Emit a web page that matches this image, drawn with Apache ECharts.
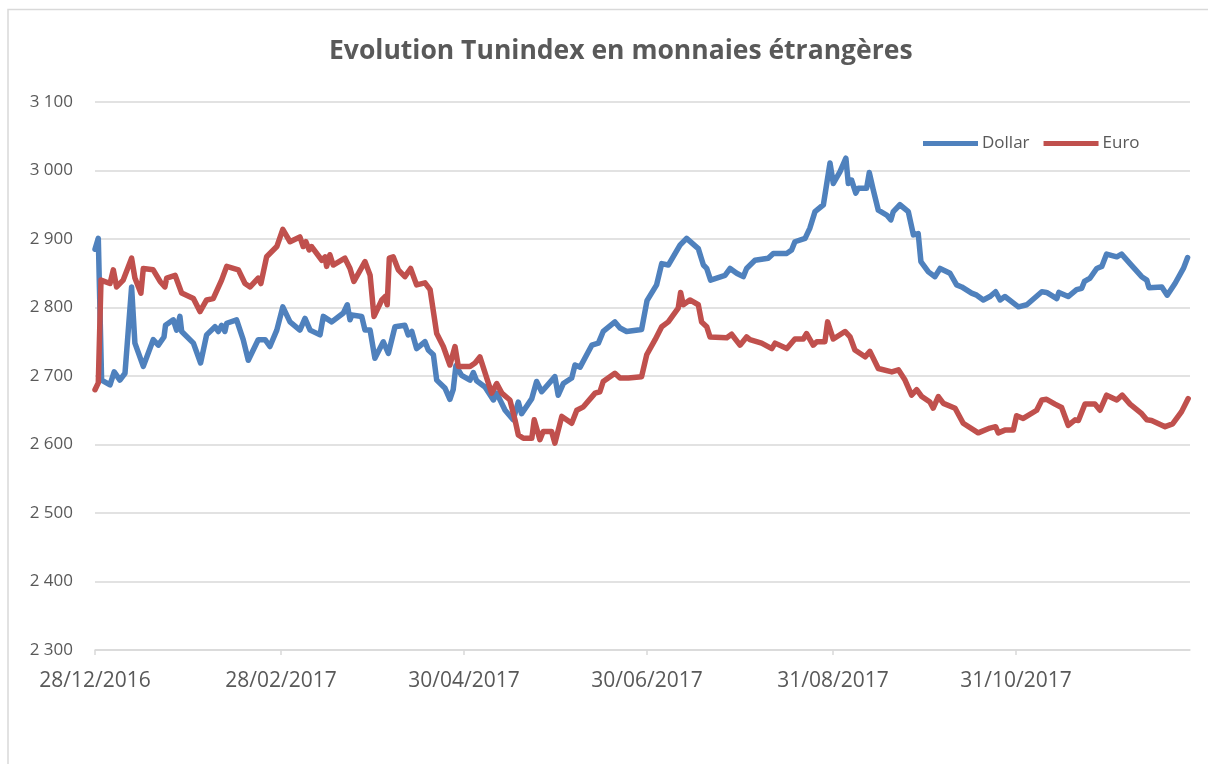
<!DOCTYPE html>
<html>
	<head>
		<meta charset="UTF-8" />
		<script src="https://cdn.jsdelivr.net/npm/echarts@6/dist/echarts.min.js"></script>
		<title>Evolution Tunindex</title>
		<style>
			body {
				margin: 0;
				background-color: #fff;
			}
			#chart {
				width: 1208px;
				height: 764px;
			}
		</style>
	</head>
	<body>
		<div id="chart"></div>
	</body>
</html>

<script>
	// x = jours depuis le 28/12/2016
	var dollarDays = [
		0, 1.1, 2.2, 5, 6.4, 8.3, 10, 12.2, 13.3, 16.1, 19.4, 21.1, 23, 23.5, 26.1, 27.2, 28.3, 28.9, 32.8, 35.2,
		37.2, 40, 41.1, 42.2, 43.3, 43.9, 47.2, 49.4, 51.1, 54.4, 56.7, 58.3, 60.6, 62.6, 65, 68.3, 70, 71.7, 75, 76.1,
		78.9, 82.8, 84.1, 85, 85.6, 88.9, 90, 91.7, 93.3, 96.1, 97.8, 100, 103.3, 104.4, 105.6, 107.2, 110, 111.1, 112.8, 113.9,
		116.7, 118.3, 119.4, 120.3, 122.2, 125, 126.1, 127.2, 130, 132.8, 133.9, 136.7, 139.4, 141.1, 142.2, 145.6, 147.2, 148.9, 153.3, 154.4,
		156.1, 158.9, 160, 161.7, 165.6, 167.8, 169.4, 173.3, 175, 177.2, 182.2, 184, 187.2, 188.9, 191.1, 195, 197.2, 201.1, 202.8, 203.9,
		205.2, 210, 211.7, 213.9, 216.1, 217.2, 220, 224.4, 226.1, 230.6, 232.2, 233.3, 236.7, 238.3, 240, 242.8, 245, 246.1, 248.3, 250.3,
		251.1, 252.2, 253.6, 254.4, 257.2, 258.1, 259.4, 261.1, 263.9, 265.3, 266.1, 268.3, 271.1, 272.8, 274.4, 275.3, 277.8, 280, 281.7, 285,
		287.2, 288.9, 292.2, 293.9, 296.1, 298.3, 300.2, 301.7, 303.3, 307.8, 310.6, 315.6, 317.2, 320.6, 321.3, 324.4, 327.2, 328.9, 329.8, 331.7,
		333.9, 335.6, 337.2, 340.6, 342.2, 345, 348.9, 350.6, 351.3, 355.6, 357.4, 360, 362.8, 364.2
	]
	var dollarValues = [
		2885, 2901, 2694, 2687, 2706, 2694, 2704, 2830, 2748, 2714, 2753, 2745, 2757, 2774, 2782, 2767, 2787, 2765, 2748, 2719,
		2760, 2772, 2765, 2774, 2765, 2777, 2782, 2753, 2723, 2753, 2753, 2743, 2767, 2801, 2779, 2767, 2784, 2767, 2760, 2787,
		2779, 2792, 2804, 2782, 2789, 2787, 2767, 2767, 2726, 2750, 2733, 2772, 2774, 2760, 2765, 2740, 2750, 2738, 2731, 2694,
		2682, 2666, 2680, 2715, 2701, 2694, 2705, 2693, 2684, 2665, 2675, 2650, 2636, 2662, 2645, 2667, 2692, 2677, 2699, 2672,
		2689, 2697, 2716, 2713, 2745, 2748, 2765, 2779, 2770, 2765, 2768, 2810, 2833, 2864, 2862, 2891, 2901, 2886, 2862, 2857,
		2840, 2847, 2857, 2850, 2845, 2857, 2869, 2872, 2879, 2879, 2884, 2896, 2901, 2916, 2940, 2950, 3011, 2981, 2998, 3018,
		2981, 2986, 2967, 2974, 2974, 2997, 2972, 2942, 2935, 2928, 2940, 2950, 2940, 2906, 2908, 2867, 2852, 2845, 2857, 2850,
		2833, 2830, 2821, 2818, 2811, 2816, 2823, 2811, 2816, 2801, 2804, 2823, 2822, 2813, 2822, 2816, 2826, 2828, 2838, 2843,
		2857, 2860, 2878, 2874, 2878, 2864, 2845, 2840, 2829, 2830, 2818, 2835, 2857, 2873
	]

	var euroDays = [
		0, 1.1, 2, 5, 6.1, 7.2, 9.4, 12.2, 13.3, 15.3, 16.1, 19.4, 21.7, 23.3, 23.9, 26.7, 28.9, 32.8, 35, 37.2,
		39.4, 42.2, 43.9, 47.8, 50, 51.7, 54.4, 55.3, 57.2, 60.6, 62.6, 65, 68.3, 69.4, 70.3, 71.4, 72.2, 75.6, 76.7, 77.2,
		78.3, 79.4, 83.3, 85, 86.3, 90, 91.7, 93, 95.6, 96.7, 97.4, 98.1, 99.4, 101.1, 103.3, 105.2, 107.2, 110, 111.7, 113.9,
		116.1, 118.3, 120, 121.1, 125, 126.7, 128.3, 132.2, 133.9, 135.6, 138.3, 140, 141.1, 142.8, 145.6, 146.4, 148.3, 149.4, 152.2, 153.3,
		155.6, 158.9, 160.6, 162.8, 166.7, 168.3, 169.4, 173.3, 175, 177.8, 182.2, 183.9, 186.7, 188.9, 191.1, 194.4, 195.2, 196.1, 198.3, 201.1,
		202.2, 203.9, 205, 210.6, 212.2, 215, 217.2, 218.3, 222.2, 225.6, 226.7, 230.6, 233.3, 236.1, 237.2, 239.4, 240.6, 243.3, 244.2, 246.1,
		250, 251.7, 253.3, 256.7, 258.3, 261.1, 265.6, 267.8, 270, 272.2, 273.9, 275.6, 278.3, 279.4, 281.1, 282.8, 286.7, 289.4, 294.4, 298.3,
		300.2, 301.1, 303.3, 306.1, 307.2, 309.4, 313.9, 315.6, 317.2, 320, 322.2, 324.4, 326.7, 327.8, 330, 333.3, 335, 337.2, 340.6, 342.4,
		345, 348.9, 350.6, 352.2, 356.7, 359.2, 362.2, 364.4
	]
	var euroValues = [
		2680, 2690, 2840, 2835, 2855, 2830, 2840, 2872, 2843, 2821, 2857, 2855, 2838, 2830, 2843, 2847, 2821, 2813, 2794, 2811,
		2813, 2840, 2860, 2855, 2835, 2830, 2843, 2835, 2874, 2889, 2914, 2896, 2903, 2889, 2896, 2884, 2889, 2869, 2874, 2860,
		2877, 2862, 2872, 2857, 2838, 2867, 2847, 2787, 2811, 2816, 2804, 2872, 2874, 2855, 2845, 2857, 2833, 2836, 2826, 2762,
		2743, 2716, 2743, 2714, 2714, 2719, 2728, 2675, 2689, 2675, 2665, 2636, 2614, 2609, 2609, 2636, 2607, 2619, 2619, 2602,
		2641, 2631, 2650, 2655, 2675, 2677, 2692, 2704, 2697, 2697, 2699, 2731, 2753, 2772, 2779, 2799, 2822, 2804, 2811, 2804,
		2779, 2772, 2757, 2756, 2761, 2745, 2757, 2753, 2748, 2740, 2748, 2740, 2754, 2754, 2762, 2745, 2750, 2750, 2779, 2754,
		2765, 2757, 2738, 2728, 2736, 2711, 2706, 2709, 2694, 2672, 2680, 2670, 2662, 2653, 2670, 2660, 2653, 2631, 2617, 2624,
		2626, 2617, 2621, 2621, 2642, 2638, 2650, 2665, 2666, 2659, 2654, 2628, 2636, 2635, 2659, 2659, 2650, 2672, 2665, 2672,
		2659, 2645, 2636, 2635, 2626, 2630, 2648, 2667
	]

	// jours des graduations : 28/12/2016, 28/02, 30/04, 30/06, 31/08, 31/10/2017
	var tickDays = [0, 62, 123, 184, 246, 307]

	var chart = echarts.init(document.getElementById('chart'))
	var baseDate = Date.UTC(2016, 11, 28)
	var font = 'Open Sans'

	function pairs(xs, ys) {
		var out = []
		for (var i = 0; i < xs.length; i++) out.push([xs[i], ys[i]])
		return out
	}

	function fmtDate(v) {
		var d = new Date(baseDate + Math.round(v) * 86400000)
		var dd = ('0' + d.getUTCDate()).slice(-2)
		var mm = ('0' + (d.getUTCMonth() + 1)).slice(-2)
		return dd + '/' + mm + '/' + d.getUTCFullYear()
	}

	var option = {
		animation: false,
		backgroundColor: '#fff',
		graphic: [
			{
				type: 'rect',
				shape: { x: 8, y: 9.5, width: 1300, height: 900 },
				style: { fill: 'none', stroke: '#d9d9d9', lineWidth: 1.5 },
			},
		],
		title: {
			text: 'Evolution Tunindex en monnaies étrangères',
			left: 324,
			top: 33,
			textStyle: { fontFamily: font, fontSize: 26.5, fontWeight: 'bold', color: '#595959' },
		},
		legend: {
			left: 918,
			top: 130,
			icon: 'rect',
			itemWidth: 55,
			itemHeight: 5,
			itemGap: 14,
			textStyle: { fontFamily: font, fontSize: 17, color: '#595959', padding: [0, 0, 0, -1] },
			data: ['Dollar', 'Euro'],
		},
		grid: { left: 95, right: 18, top: 102, bottom: 114 },
		xAxis: {
			type: 'value',
			min: 0,
			max: 365,
			splitLine: { show: false },
			axisLine: { lineStyle: { color: '#d9d9d9', width: 1.5 } },
			axisTick: { show: true, customValues: tickDays, length: 5, lineStyle: { color: '#d9d9d9', width: 1.5 } },
			axisLabel: {
				customValues: tickDays,
				formatter: fmtDate,
				fontFamily: font,
				fontSize: 21,
				color: '#595959',
				margin: 21,
			},
		},
		yAxis: {
			type: 'value',
			min: 2300,
			max: 3100,
			interval: 100,
			axisLine: { show: false },
			axisTick: { show: false },
			splitLine: { lineStyle: { color: '#d9d9d9', width: 1.5 } },
			axisLabel: {
				fontFamily: font,
				fontSize: 17,
				color: '#595959',
				margin: 22,
				formatter: function (v) {
					return String(v).replace(/\B(?=(\d{3})+(?!\d))/g, ' ')
				},
			},
		},
		series: [
			{
				name: 'Dollar',
				type: 'line',
				showSymbol: false,
				symbol: 'none',
				color: '#4f81bd',
				lineStyle: { width: 5.5, cap: 'round', join: 'round' },
				data: pairs(dollarDays, dollarValues),
			},
			{
				name: 'Euro',
				type: 'line',
				showSymbol: false,
				symbol: 'none',
				color: '#c0504d',
				lineStyle: { width: 5.5, cap: 'round', join: 'round' },
				data: pairs(euroDays, euroValues),
			},
		],
	}
	chart.setOption(option)
</script>
